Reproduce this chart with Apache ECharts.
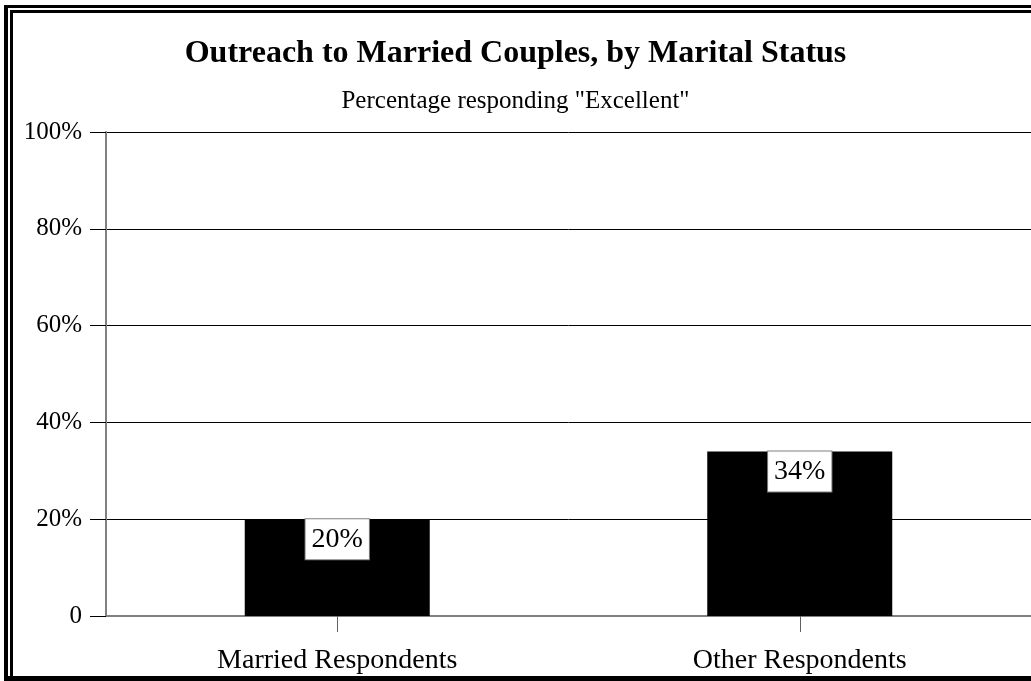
<!DOCTYPE html>
<html lang="en">
<head>
    <meta charset="UTF-8">
    <title>Outreach to Married Couples</title>
    <script src="https://cdn.jsdelivr.net/npm/echarts@6/dist/echarts.min.js"></script>
    <style>
        html, body { margin: 0; padding: 0; background: #fff; }
        #chart { width: 1031px; height: 681px; }
    </style>
</head>
<body>
<div id="chart"></div>
<script type="text/javascript">
    // data
    var categories = ['Married Respondents', 'Other Respondents'];
    var excellentPct = [20, 34];
    var yTicks = [0, 20, 40, 60, 80, 100];

    var serif = '"Liberation Serif", "Times New Roman", serif';
    var myChart = echarts.init(document.getElementById('chart'));

    var option = {
        backgroundColor: '#ffffff',
        animation: false,
        title: [{
            text: 'Outreach to Married Couples, by Marital Status',
            left: 'center',
            top: 33,
            textStyle: { fontFamily: serif, fontSize: 32, fontWeight: 'bold', color: '#000' }
        }, {
            text: 'Percentage responding "Excellent"',
            left: 'center',
            top: 84,
            textStyle: { fontFamily: serif, fontSize: 25, fontWeight: 'normal', color: '#000' }
        }],
        grid: { left: 106, right: -3, top: 132, bottom: 65, containLabel: false },
        xAxis: {
            type: 'category',
            data: categories,
            axisLine: { lineStyle: { color: '#808080', width: 2 } },
            axisTick: { show: true, alignWithLabel: true, length: 16, lineStyle: { color: '#606060', width: 1 } },
            axisLabel: { fontFamily: serif, fontSize: 28, color: '#000', margin: 31 }
        },
        yAxis: {
            type: 'value',
            min: yTicks[0],
            max: yTicks[yTicks.length - 1],
            interval: yTicks[1] - yTicks[0],
            axisLine: { show: true, lineStyle: { color: '#808080', width: 2 } },
            axisTick: { show: true, length: 16, lineStyle: { color: '#000', width: 1 } },
            splitLine: { show: true, lineStyle: { color: '#000', width: 1 } },
            axisLabel: {
                fontFamily: serif, fontSize: 25, color: '#000', margin: 24,
                formatter: function (v) { return v === 0 ? '0' : v + '%'; }
            }
        },
        series: [{
            type: 'bar',
            data: excellentPct,
            barWidth: '40%',
            itemStyle: { color: '#000' },
            label: {
                show: true,
                position: 'insideTop',
                distance: 0,
                formatter: '{c}%',
                fontFamily: serif,
                fontSize: 28,
                color: '#000',
                backgroundColor: '#fff',
                borderColor: '#808080',
                borderWidth: 1,
                padding: [6, 6, 6, 6]
            }
        }],
        graphic: [
            // double frame round the chart, cut at the right edge
            { type: 'rect', shape: { x: 4, y: 5, width: 4, height: 676 }, style: { fill: '#000' } },
            { type: 'rect', shape: { x: 10, y: 10, width: 3, height: 666 }, style: { fill: '#000' } },
            { type: 'rect', shape: { x: 4, y: 5, width: 1027, height: 3 }, style: { fill: '#000' } },
            { type: 'rect', shape: { x: 10, y: 10, width: 1021, height: 3 }, style: { fill: '#000' } },
            { type: 'rect', shape: { x: 4, y: 676, width: 1027, height: 5 }, style: { fill: '#000' } }
        ]
    };
    myChart.setOption(option);
</script>
</body>
</html>
